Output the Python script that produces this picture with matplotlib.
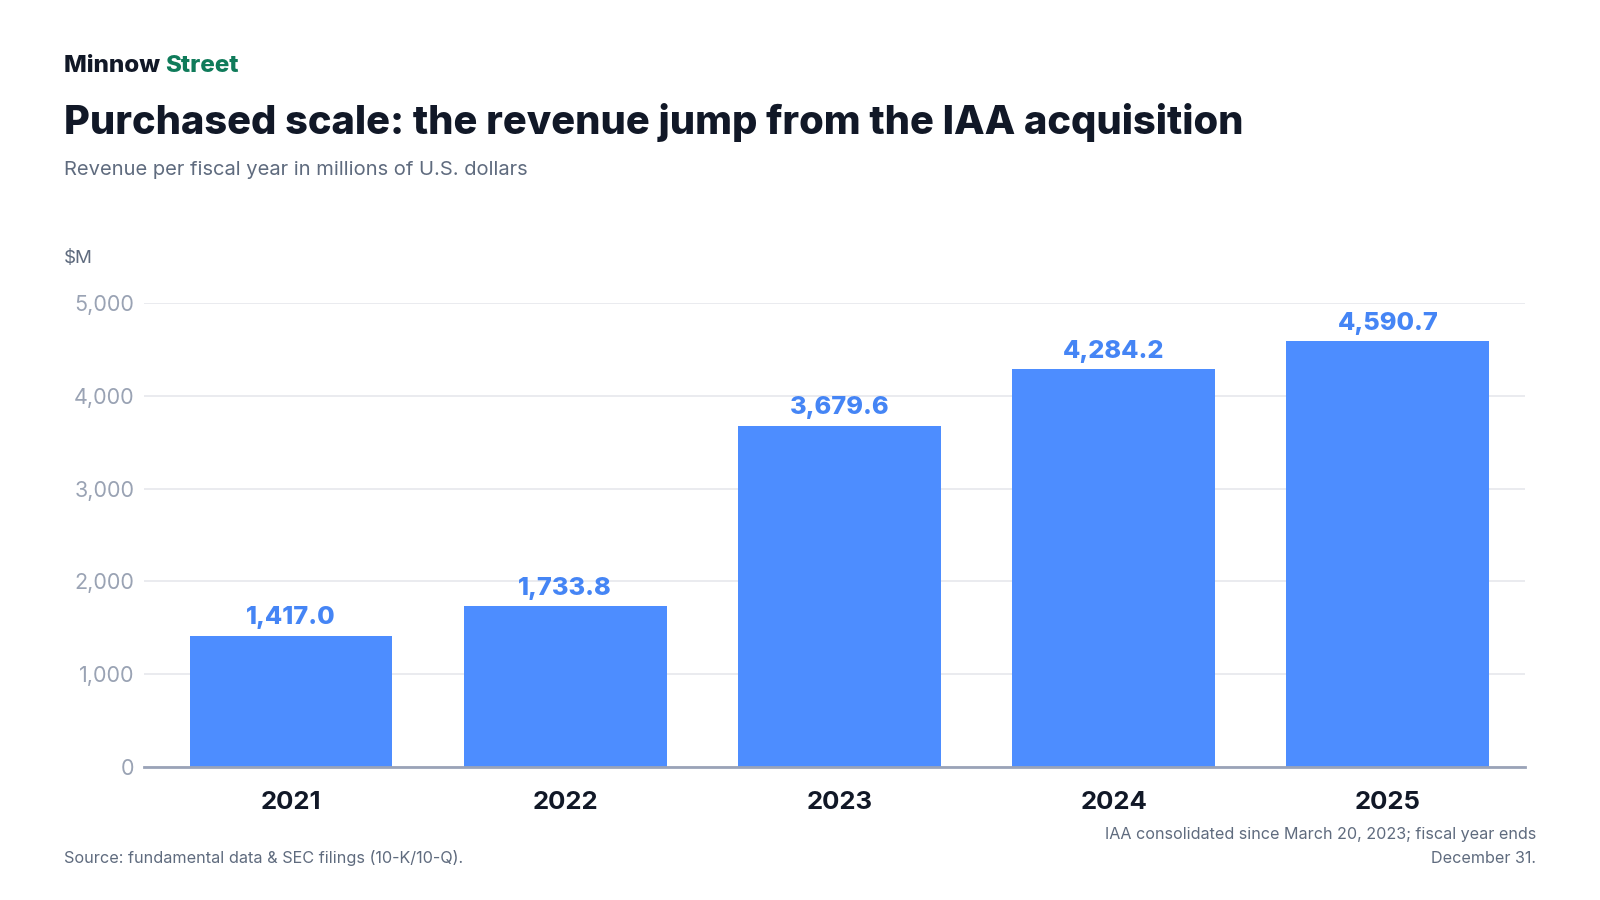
import matplotlib
matplotlib.use("Agg")
import matplotlib.pyplot as plt
from matplotlib.ticker import FuncFormatter

# Data
years = ["2021", "2022", "2023", "2024", "2025"]
revenue = [1417.0, 1733.8, 3679.6, 4284.2, 4590.7]
yticks = [0, 1000, 2000, 3000, 4000, 5000]

plt.rcParams['font.family'] = ['Inter', 'DejaVu Sans']

BAR = "#4d8dff"
LABEL = "#4585f5"
DARK = "#111827"
GREY = "#5f6b7e"
TICK = "#9aa3b4"

W, H = 1600, 900
fig = plt.figure(figsize=(16, 9), dpi=100)
fig.patch.set_facecolor("white")

def px(x, y):
    return x / W, 1 - y / H

# axes box in pixels
left, right, top, bottom = 144, 1525, 303, 767
ax = fig.add_axes([left / W, 1 - bottom / H, (right - left) / W, (bottom - top) / H])

x = range(len(years))
bars = ax.bar(x, revenue, width=0.74, color=BAR, zorder=3)
ax.bar_label(bars, labels=[f"{v:,.1f}" for v in revenue], padding=4.5,
             color=LABEL, fontsize=18.2, fontweight=800, clip_on=False)

ax.set_xlim(-0.536, 4.5)
ax.set_ylim(0, 5000)
ax.set_yticks(yticks)
ax.yaxis.set_major_formatter(FuncFormatter(lambda v, p: f"{v:,.0f}"))
ax.set_xticks(list(x))
ax.set_xticklabels(years, fontsize=18.5, fontweight="bold", color=DARK)
ax.tick_params(axis="x", length=0, pad=17)
ax.tick_params(axis="y", length=0, pad=7, labelsize=15.5, labelcolor=TICK)

ax.grid(axis="y", color="#e6e8ec", linewidth=1.2, zorder=0)
for s in ["top", "right", "left"]:
    ax.spines[s].set_visible(False)
ax.spines["bottom"].set_color("#9aa3b8")
ax.spines["bottom"].set_linewidth(2)
ax.spines["bottom"].set_zorder(4)

# header
brand = fig.text(*px(64, 72), "Minnow ", fontsize=17.4, fontweight=800,
                 color=DARK, va="baseline")
fig.canvas.draw()
bb = brand.get_window_extent()
fig.text(bb.x1 / W, 1 - 72 / H, "Street", fontsize=17.4, fontweight=800,
         color="#0f7b5a", va="baseline")
fig.text(*px(64, 134), "Purchased scale: the revenue jump from the IAA acquisition",
         fontsize=28.7, fontweight=800, color=DARK, va="baseline")
fig.text(*px(64, 175), "Revenue per fiscal year in millions of U.S. dollars",
         fontsize=14.5, color=GREY, va="baseline")
fig.text(*px(64, 263), "$M", fontsize=13.5, color=GREY, va="baseline")

# footer
fig.text(*px(64, 863), "Source: fundamental data & SEC filings (10-K/10-Q).",
         fontsize=11.7, color=GREY, va="baseline")
fig.text(*px(1536, 839), "IAA consolidated since March 20, 2023; fiscal year ends",
         fontsize=11.6, color=GREY, va="baseline", ha="right")
fig.text(*px(1536, 863), "December 31.",
         fontsize=11.6, color=GREY, va="baseline", ha="right")

fig.savefig("out.png", dpi=100, facecolor="white")
